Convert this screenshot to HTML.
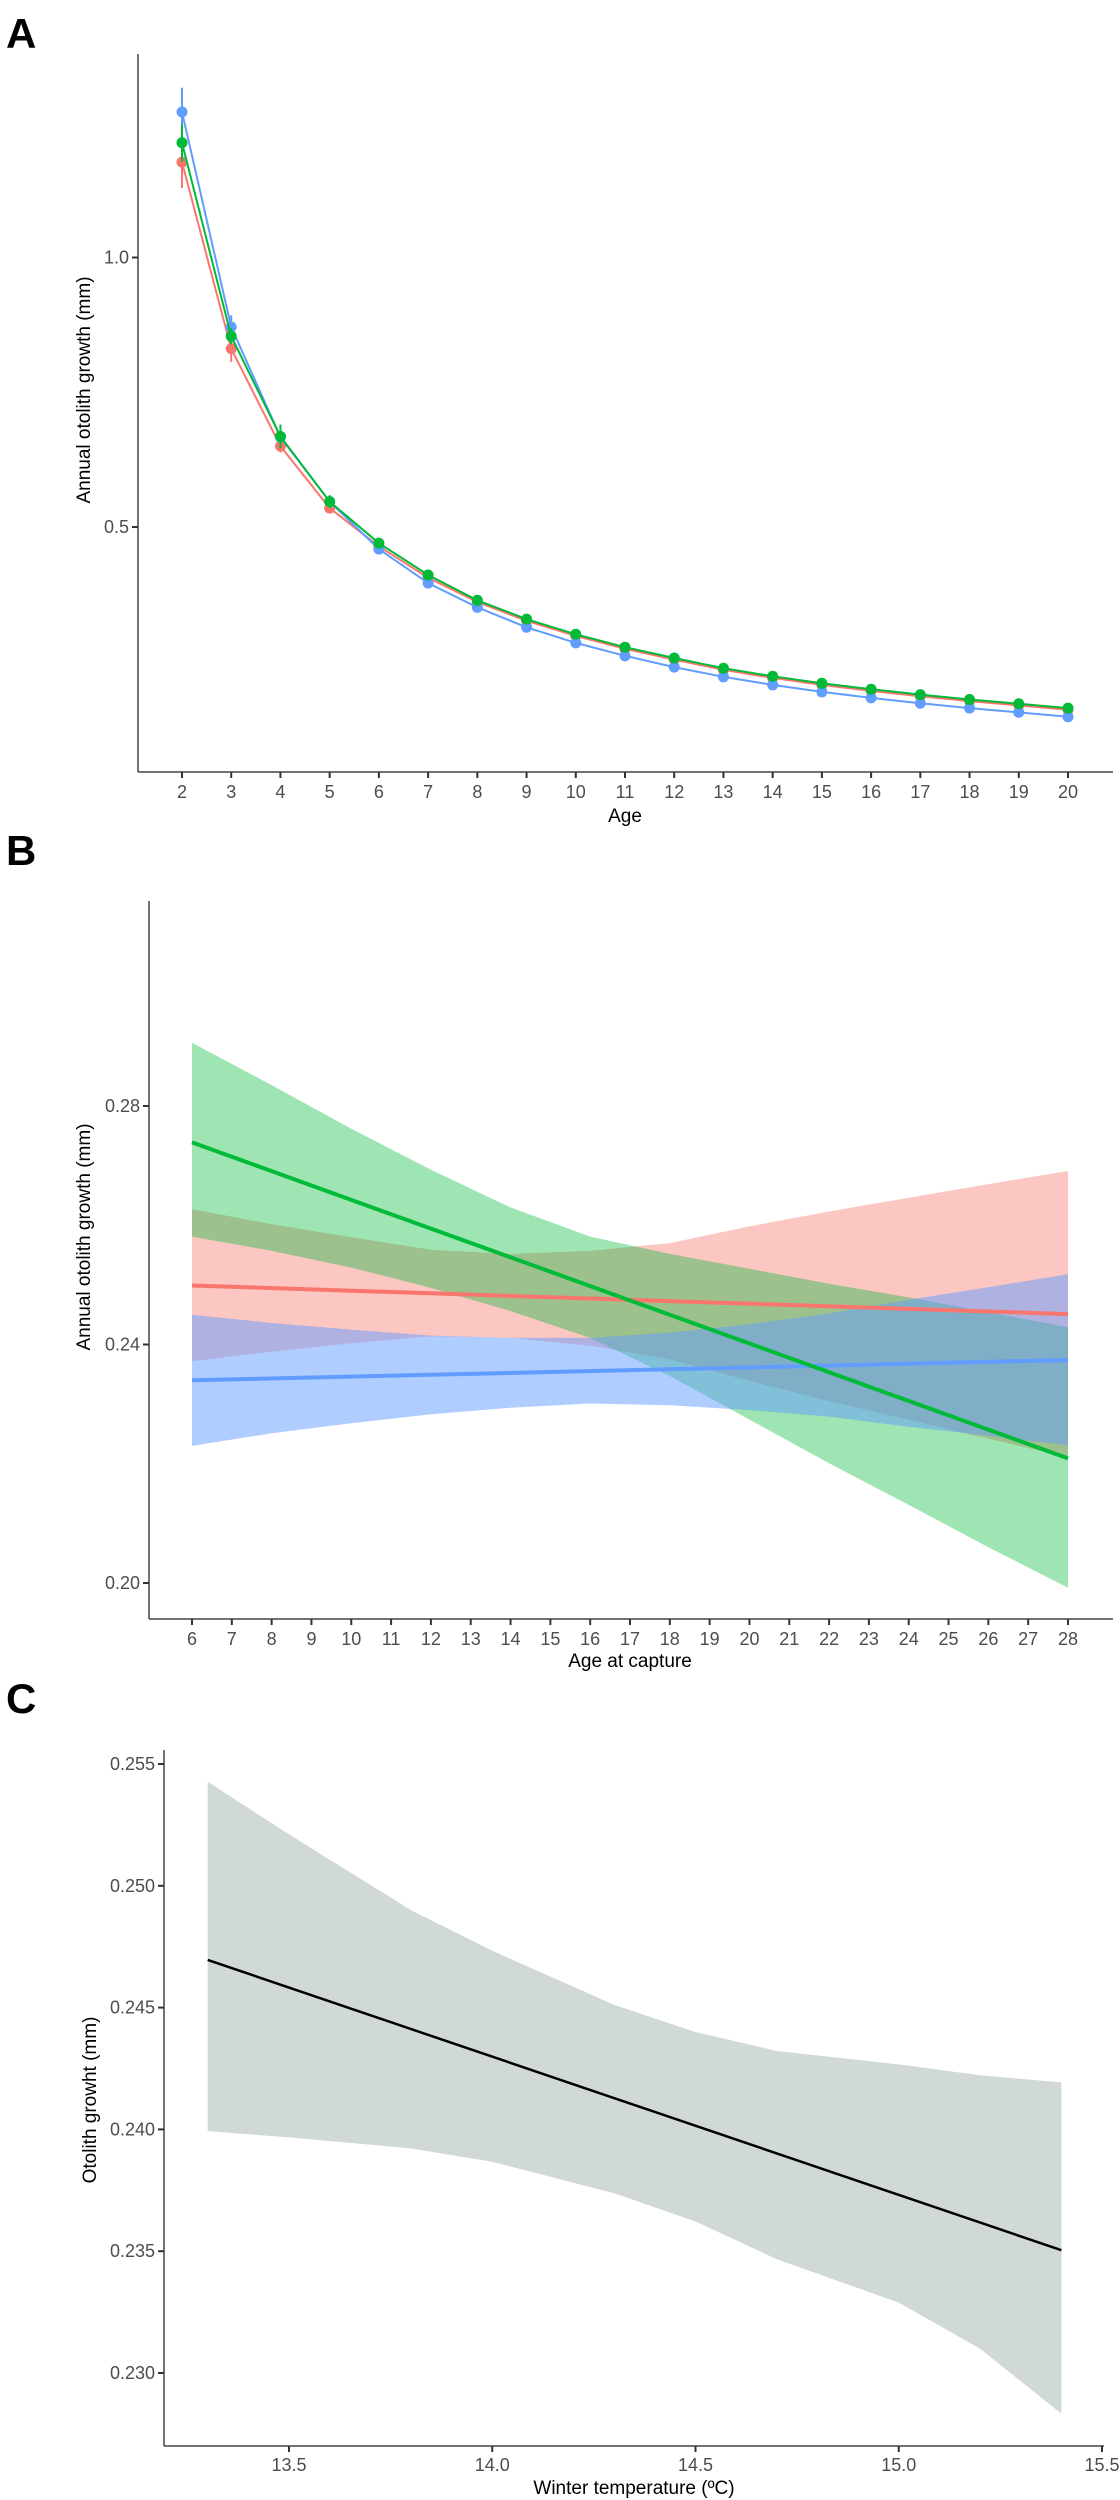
<!DOCTYPE html>
<html><head><meta charset="utf-8">
<style>
html,body{margin:0;padding:0;background:#fff;}
svg{display:block;font-family:"Liberation Sans",Arial,sans-serif;}
.tick{font-size:18px;fill:#4d4d4d;}
.title{font-size:19px;fill:#000;}
.panel{font-size:42px;font-weight:bold;fill:#000;}
</style></head>
<body>
<svg id="fig" width="1120" height="2500" viewBox="0 0 1120 2500" xmlns="http://www.w3.org/2000/svg">
<text class="panel" x="6" y="48">A</text>
<text class="panel" x="6" y="865">B</text>
<text class="panel" x="6" y="1713">C</text>
<g id="pa"></g>
<g id="pb"></g>
<g id="pc"></g>
</svg>
<script>
// ---------- Panel A data ----------
const agesA = [2,3,4,5,6,7,8,9,10,11,12,13,14,15,16,17,18,19,20];
const blueA = [1.27,0.871,0.667,0.547,0.459,0.396,0.351,0.314,0.285,0.261,0.240,0.222,0.207,0.194,0.183,0.173,0.164,0.156,0.148];
const greenA = [1.213,0.854,0.668,0.547,0.470,0.411,0.364,0.329,0.301,0.277,0.257,0.238,0.223,0.210,0.199,0.189,0.180,0.172,0.164];
const redA = [1.177,0.831,0.650,0.535,0.464,0.406,0.361,0.326,0.298,0.274,0.254,0.235,0.220,0.207,0.196,0.186,0.177,0.169,0.161];
const blueSE = [0.045,0.022,0.012,0.008,0.005,0.004,0.003,0.003,0.003,0.003,0.003,0.003,0.003,0.003,0.003,0.003,0.003,0.003,0.003];
const greenSE = [0.035,0.015,0.022,0.012,0.006,0.004,0.003,0.003,0.003,0.003,0.003,0.003,0.003,0.003,0.003,0.003,0.003,0.003,0.003];
const redSE = [0.048,0.025,0.012,0.008,0.005,0.004,0.003,0.003,0.003,0.003,0.003,0.003,0.003,0.003,0.003,0.003,0.003,0.003,0.003];
const yTicksA = [0.5,1.0];
const yTickLabelsA = ["0.5","1.0"];

// ---------- Panel B data ----------
const agesB = [6,8,10,12,14,16,18,20,22,24,26,28];
const xTicksB = [6,7,8,9,10,11,12,13,14,15,16,17,18,19,20,21,22,23,24,25,26,27,28];
const greenUpB = [0.2906,0.2835,0.2762,0.2693,0.2630,0.2581,0.2552,0.2527,0.2502,0.2479,0.2454,0.2429];
const greenLoB = [0.2581,0.2557,0.2529,0.2495,0.2456,0.2411,0.2347,0.2274,0.2201,0.2131,0.2060,0.1992];
const redUpB = [0.2627,0.2602,0.2580,0.2559,0.2552,0.2557,0.2570,0.2598,0.2623,0.2646,0.2669,0.2691];
const redLoB = [0.2372,0.2388,0.2402,0.2414,0.2411,0.2398,0.2375,0.2339,0.2305,0.2274,0.2242,0.2211];
const blueUpB = [0.2450,0.2436,0.2425,0.2415,0.2411,0.2411,0.2420,0.2434,0.2452,0.2475,0.2496,0.2518];
const blueLoB = [0.2230,0.2251,0.2268,0.2283,0.2294,0.2301,0.2298,0.2290,0.2279,0.2262,0.2247,0.2231];
const lineXB = [6,28];
const greenLineB = [0.2739,0.2209];
const redLineB = [0.2499,0.2451];
const blueLineB = [0.2340,0.2374];
const yTicksB = [0.20,0.24,0.28];
const yTickLabelsB = ["0.20","0.24","0.28"];

// ---------- Panel C data ----------
const tempC = [13.3,13.5,13.8,14.0,14.3,14.5,14.7,15.0,15.2,15.4];
const upC = [0.25427,0.25211,0.24900,0.24733,0.24511,0.24400,0.24322,0.24267,0.24222,0.24193];
const loC = [0.23993,0.23967,0.23922,0.23867,0.23738,0.23622,0.23467,0.23289,0.23100,0.22833];
const lineXC = [13.3,15.4];
const fitC = [0.24696,0.23504];
const xTicksC = [13.5,14.0,14.5,15.0,15.5];
const xTickLabelsC = ["13.5","14.0","14.5","15.0","15.5"];
const yTicksC = [0.230,0.235,0.240,0.245,0.250,0.255];
const yTickLabelsC = ["0.230","0.235","0.240","0.245","0.250","0.255"];

const NS = "http://www.w3.org/2000/svg";
function mk(parent, tag, attrs, text){
  const e = document.createElementNS(NS, tag);
  for (const k in attrs) e.setAttribute(k, attrs[k]);
  if (text !== undefined) e.textContent = text;
  parent.appendChild(e);
  return e;
}
function lin(d0,d1,r0,r1){ return v => r0 + (v-d0)*(r1-r0)/(d1-d0); }

function axes(g, L, T, R, B){
  const ay = mk(g,'line',{x1:L,y1:T,x2:L,y2:B,stroke:'#444','stroke-width':1.5});
  
  
  const ax = mk(g,'line',{x1:L,y1:B,x2:R,y2:B,stroke:'#444','stroke-width':1.5});
  
  
}
function xtick(g, x, B, label, ty){
  const t = mk(g,'line',{x1:x,y1:B,x2:x,y2:B+6,stroke:'#333','stroke-width':2});
  
  
  const l = mk(g,'text',{x:x,y:ty,'text-anchor':'middle','class':'tick'},label);
  
  
}
function ytick(g, y, L, label){
  const t = mk(g,'line',{x1:L-6,y1:y,x2:L,y2:y,stroke:'#333','stroke-width':2});
  
  
  const l = mk(g,'text',{x:L-9,y:y+6,'text-anchor':'end','class':'tick'},label);
  
  
}
function ytitle(g, x, y, txt){
  const t = mk(g,'text',{x:x,y:y,'text-anchor':'middle','class':'title',transform:`rotate(-90 ${x} ${y})`},txt);
  
  
}
function xtitle(g, x, y, txt){
  const t = mk(g,'text',{x:x,y:y,'text-anchor':'middle','class':'title'},txt);
  
  
}
function band(g, xs, up, lo, X, Y, fill, op, name){
  let d = xs.map((x,i)=>(i?'L':'M')+X(x).toFixed(1)+','+Y(up[i]).toFixed(1)).join(' ');
  for (let i=xs.length-1;i>=0;i--) d += ' L'+X(xs[i]).toFixed(1)+','+Y(lo[i]).toFixed(1);
  const p = mk(g,'path',{d:d+' Z',fill:fill,'fill-opacity':op,stroke:'none'});
  
  
}
function polyline(g, xs, ys, X, Y, color, w, name){
  const p = mk(g,'polyline',{points:xs.map((x,i)=>X(x).toFixed(1)+','+Y(ys[i]).toFixed(1)).join(' '),fill:'none',stroke:color,'stroke-width':w,'stroke-linejoin':'round'});
  
  
}

// ---------- Panel A ----------
(function(){
  const g = document.getElementById('pa');
  const L=138,T=54,R=1113,B=772;
  const X = lin(2,20,182,1068), Y = lin(0.5,1.0,527,257.5);
  axes(g,L,T,R,B);
  agesA.forEach(a=>xtick(g,X(a),B,String(a),798));
  yTicksA.forEach((v,i)=>ytick(g,Y(v),L,yTickLabelsA[i]));
  ytitle(g,90,390,'Annual otolith growth (mm)');
  xtitle(g,625,822,'Age');
  const series = [['red',redA,redSE,'#F8766D'],['blue',blueA,blueSE,'#619CFF'],['green',greenA,greenSE,'#00BA38']];
  series.forEach(([nm,vals,se,col])=>{
    vals.forEach((v,i)=>{
      const e = mk(g,'line',{x1:X(agesA[i]),x2:X(agesA[i]),y1:Y(v+se[i]),y2:Y(v-se[i]),stroke:col,'stroke-width':2});
      
      
    });
    polyline(g,agesA,vals,X,Y,col,2,nm+'-growth-line');
    vals.forEach((v,i)=>{
      const c = mk(g,'circle',{cx:X(agesA[i]),cy:Y(v),r:5.5,fill:col});
      
      
    });
  });
})();

// ---------- Panel B ----------
(function(){
  const g = document.getElementById('pb');
  const L=149,T=901,R=1113,B=1619;
  const X = lin(6,28,192,1068), Y = lin(0.20,0.28,1583,1106);
  band(g,agesB,redUpB,redLoB,X,Y,'#F8766D',0.42,'red-confidence-band');
  band(g,agesB,greenUpB,greenLoB,X,Y,'#00BA38',0.38,'green-confidence-band');
  band(g,agesB,blueUpB,blueLoB,X,Y,'#619CFF',0.5,'blue-confidence-band');
  polyline(g,lineXB,redLineB,X,Y,'#F8766D',4,'red-fit-line');
  polyline(g,lineXB,blueLineB,X,Y,'#619CFF',4,'blue-fit-line');
  polyline(g,lineXB,greenLineB,X,Y,'#00BA38',4,'green-fit-line');
  axes(g,L,T,R,B);
  xTicksB.forEach(a=>xtick(g,X(a),B,String(a),1645));
  yTicksB.forEach((v,i)=>ytick(g,Y(v),L,yTickLabelsB[i]));
  ytitle(g,90,1237,'Annual otolith growth (mm)');
  xtitle(g,630,1667,'Age at capture');
})();

// ---------- Panel C ----------
(function(){
  const g = document.getElementById('pc');
  const L=164,T=1750,R=1104,B=2446;
  const X = lin(13.5,15.5,289,1102), Y = lin(0.230,0.255,2373,1764);
  band(g,tempC,upC,loC,X,Y,'#d1d8d8',1,'confidence-band');
  polyline(g,lineXC,fitC,X,Y,'#000',2.5,'fit-line');
  axes(g,L,T,R,B);
  xTicksC.forEach((v,i)=>xtick(g,X(v),B,xTickLabelsC[i],2471));
  yTicksC.forEach((v,i)=>ytick(g,Y(v),L,yTickLabelsC[i]));
  ytitle(g,96,2100,'Otolith growht (mm)');
  xtitle(g,634,2494,'Winter temperature (ºC)');
})();
</script>
</body></html>
